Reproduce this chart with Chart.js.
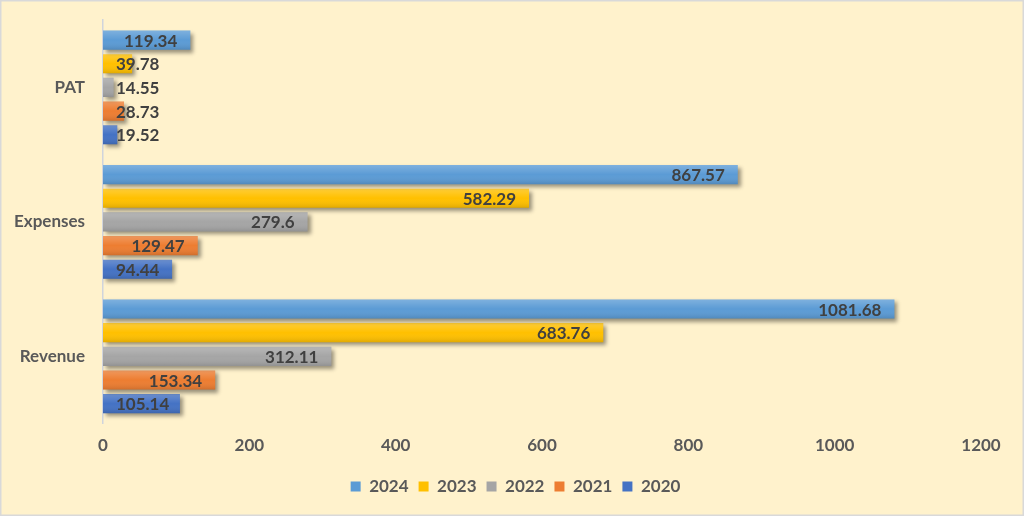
<!DOCTYPE html>
<html>
<head>
<meta charset="utf-8">
<script src="https://cdn.jsdelivr.net/npm/chart.js@4"></script>
<style>
  html, body { margin: 0; padding: 0; background: #fff2cc; }
  #wrap { width: 1024px; height: 516px; position: relative; }
</style>
</head>
<body>
<div id="wrap"><canvas id="chart" width="1024" height="516"></canvas></div>
<script>
const categories = ["PAT", "Expenses", "Revenue"];
const years = ["2024", "2023", "2022", "2021", "2020"];
const values2024 = [119.34, 867.57, 1081.68];
const values2023 = [39.78, 582.29, 683.76];
const values2022 = [14.55, 279.6, 312.11];
const values2021 = [28.73, 129.47, 153.34];
const values2020 = [19.52, 94.44, 105.14];
const xTicks = [0, 200, 400, 600, 800, 1000, 1200];

const seriesValues = [values2024, values2023, values2022, values2021, values2020];
const colors = ["#5b9bd5", "#ffc000", "#a5a5a5", "#ed7d31", "#4472c4"];
const FONT = "Lato, 'Open Sans', sans-serif";

// page background + thin border
const bgPlugin = {
  id: "bg",
  beforeDraw(chart) {
    const ctx = chart.ctx;
    ctx.save();
    ctx.fillStyle = "#fff2cc";
    ctx.fillRect(0, 0, chart.width, chart.height);
    ctx.strokeStyle = "#d9d9d9";
    ctx.lineWidth = 1.5;
    ctx.strokeRect(0.75, 0.75, chart.width - 1.5, chart.height - 1.5);
    ctx.restore();
  },
};

// legend sits a bit right of the default centre in the original
const legendShift = {
  id: "legendShift",
  afterLayout(chart) {
    if (chart.legend) {
      chart.legend.left += 25;
      chart.legend.right += 25;
    }
  },
};

// soft shadow under bars, light gloss on top
const shadowPlugin = {
  id: "shadow",
  beforeDatasetsDraw(chart) {
    const ctx = chart.ctx;
    ctx.save();
    ctx.shadowColor = "rgba(0,0,0,0.4)";
    ctx.shadowBlur = 4;
    ctx.shadowOffsetX = 3;
    ctx.shadowOffsetY = 3;
  },
  afterDatasetsDraw(chart) {
    const ctx = chart.ctx;
    ctx.restore();
    chart.data.datasets.forEach((ds, i) => {
      chart.getDatasetMeta(i).data.forEach((bar) => {
        const top = bar.y - bar.height / 2;
        const g = ctx.createLinearGradient(0, top, 0, top + bar.height);
        g.addColorStop(0, "rgba(255,255,255,0.22)");
        g.addColorStop(0.5, "rgba(255,255,255,0)");
        g.addColorStop(1, "rgba(0,0,0,0.12)");
        ctx.fillStyle = g;
        ctx.fillRect(bar.base, top, bar.x - bar.base, bar.height);
      });
    });
  },
};

// value labels at inside end of each bar
const labelPlugin = {
  id: "valueLabels",
  afterDatasetsDraw(chart) {
    const ctx = chart.ctx;
    const x0 = chart.scales.x.getPixelForValue(0);
    ctx.save();
    ctx.font = "bold 17px " + FONT;
    ctx.fillStyle = "#404040";
    ctx.textBaseline = "middle";
    ctx.textAlign = "left";
    chart.data.datasets.forEach((ds, i) => {
      chart.getDatasetMeta(i).data.forEach((bar, j) => {
        const txt = String(ds.data[j]);
        const w = ctx.measureText(txt).width;
        let left = bar.x - 13 - w;
        if (left < x0 + 13) left = x0 + 13;
        ctx.fillText(txt, left, bar.y + 1);
      });
    });
    ctx.restore();
  },
};

new Chart(document.getElementById("chart"), {
  type: "bar",
  data: {
    labels: categories,
    datasets: years.map((y, i) => ({
      label: y,
      data: seriesValues[i],
      backgroundColor: colors[i],
      borderWidth: 0,
      categoryPercentage: 0.88,
      barPercentage: 0.81,
    })),
  },
  options: {
    indexAxis: "y",
    responsive: false,
    animation: false,
    devicePixelRatio: 1,
    layout: { padding: { left: 0, right: 43, top: 16.5, bottom: 11 } },
    scales: {
      x: {
        min: 0,
        max: 1200,
        afterBuildTicks(scale) {
          scale.ticks = xTicks.map((v) => ({ value: v }));
        },
        grid: { display: false, drawTicks: false },
        border: { display: false },
        ticks: {
          color: "#595959",
          font: { family: FONT, size: 17, weight: "bold" },
          padding: 12,
          callback: (v) => String(v),
        },
      },
      y: {
        afterFit(scale) { scale.width = 103; },
        grid: { display: false },
        border: { display: true, color: "#d0d4dc", width: 1.5 },
        ticks: {
          color: "#595959",
          font: { family: FONT, size: 17, weight: "bold" },
          padding: 10,
        },
      },
    },
    plugins: {
      legend: {
        position: "bottom",
        labels: {
          color: "#595959",
          font: { family: FONT, size: 17, weight: "bold" },
          boxWidth: 10,
          boxHeight: 10,
          padding: 10,
        },
      },
      tooltip: { enabled: false },
    },
  },
  plugins: [bgPlugin, legendShift, shadowPlugin, labelPlugin],
});
</script>
</body>
</html>
